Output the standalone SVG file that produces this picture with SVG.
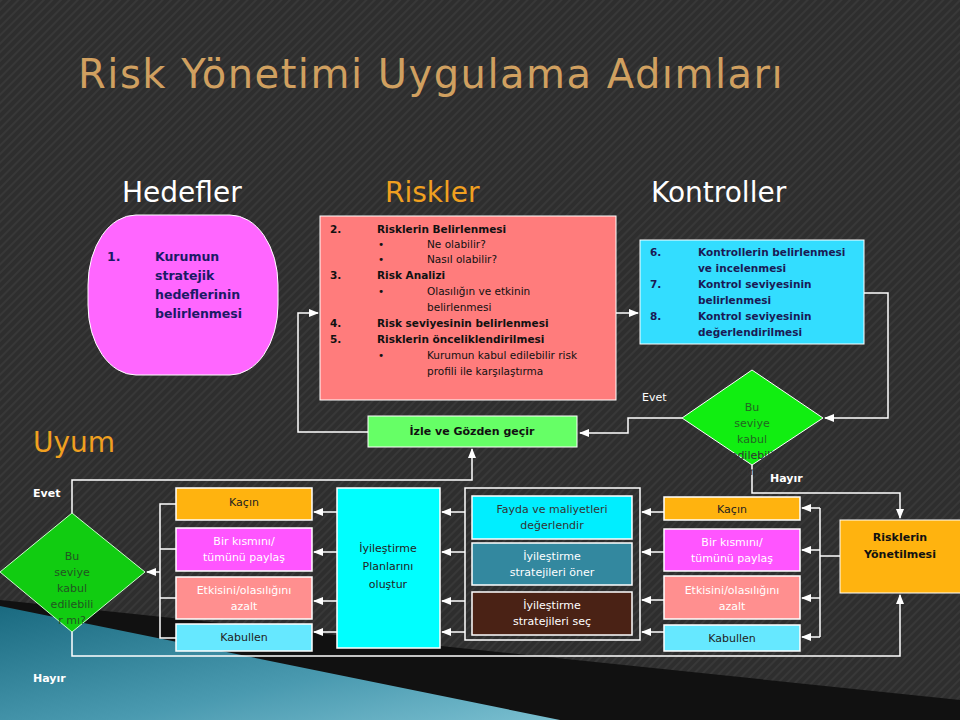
<svg xmlns="http://www.w3.org/2000/svg" width="960" height="720" viewBox="0 0 960 720">
<defs>
<pattern id="st" width="6" height="6" patternUnits="userSpaceOnUse" patternTransform="rotate(45)"><rect width="6" height="6" fill="#2e2e2e"/><rect width="2" height="6" fill="#383838"/></pattern>
<linearGradient id="tg" x1="0" y1="0" x2="1" y2="1"><stop offset="0" stop-color="#1a6a80"/><stop offset="0.6" stop-color="#4a9ab0"/><stop offset="1" stop-color="#7abfd0"/></linearGradient>
<marker id="a" markerWidth="10" markerHeight="8" refX="9" refY="4" orient="auto" markerUnits="userSpaceOnUse"><path d="M0,0 L10,4 L0,8 z" fill="#fff"/></marker>
</defs>
<style>
text{font-family:"DejaVu Sans","Liberation Sans",sans-serif}
.c{fill:none;stroke:#fff;stroke-width:1.5}
.ar{marker-end:url(#a)}
.b{stroke:#fff;stroke-width:1.5}
.s{font-size:11px;text-anchor:middle}
.h{font-size:28px;fill:#fff}
.lab{font-size:11px;font-weight:bold;fill:#fff}
</style>
<rect width="960" height="720" fill="url(#st)"/>
<polygon points="0,600 960,700 960,720 0,720" fill="#111"/>
<polygon points="0,606 560,720 0,720" fill="url(#tg)"/>
<text x="78" y="88" font-size="40" fill="#d0a060" letter-spacing="1.5">Risk Yönetimi Uygulama Adımları</text>
<text x="122" y="202" class="h">Hedefler</text>
<text x="385" y="202" class="h" style="fill:#f0a020">Riskler</text>
<text x="651" y="202" class="h">Kontroller</text>
<text x="33" y="452" font-size="28" fill="#f0a020">Uyum</text>

<g id="connectors">
<path class="c ar" d="M616,313 H638"/>
<path class="c ar" d="M864,293 H888 V418 H825"/>
<path class="c ar" d="M682,418 H628 V433 H580"/>
<path class="c ar" d="M368,432 H298 V313 H318"/>
<path class="c ar" d="M72,513 V480 H472 V449"/>
<path class="c ar" d="M72,632 V656 H900 V595"/>
<path class="c ar" d="M752,465 V493 H900 V518"/>
<path class="c" d="M840,556 H820 M820,508 V637"/>
<path class="c ar" d="M820,508 H802"/><path class="c ar" d="M820,550 H802"/><path class="c ar" d="M820,598 H802"/><path class="c ar" d="M820,637 H802"/>
<path class="c ar" d="M664,512 H642"/><path class="c ar" d="M664,552 H642"/><path class="c ar" d="M664,600 H642"/><path class="c ar" d="M664,632 H642"/>
<path class="c ar" d="M465,512 H442"/><path class="c ar" d="M465,552 H442"/><path class="c ar" d="M465,601 H442"/><path class="c ar" d="M465,632 H442"/>
<path class="c ar" d="M337,512 H314"/><path class="c ar" d="M337,552 H314"/><path class="c ar" d="M337,601 H314"/><path class="c ar" d="M337,632 H314"/>
<path class="c" d="M176,504 H160 V638 H176 M160,549 H176 M160,598 H176"/>
<path class="c ar" d="M160,572 H147"/>
</g>
<text x="642" y="401" font-size="11" fill="#fff">Evet</text>
<text x="770" y="482" class="lab">Hayır</text>
<text x="33" y="497" class="lab">Evet</text>
<text x="33" y="682" class="lab">Hayır</text>

<g id="n1"><rect x="88" y="215" width="190" height="160" rx="48" ry="70" fill="#ff66ff" stroke="#fff"/>
<g font-size="12.5" font-weight="bold" fill="#1a1a66"><text x="107" y="261">1.</text><text x="155" y="261">Kurumun</text><text x="155" y="280">stratejik</text><text x="155" y="299">hedeflerinin</text><text x="155" y="318">belirlenmesi</text></g></g>

<g id="n2"><rect x="320" y="216" width="296" height="184" fill="#ff7c7c" stroke="#fff"/>
<g font-size="10.5" fill="#111"><g font-weight="bold"><text x="330" y="233">2.</text><text x="377" y="233">Risklerin Belirlenmesi</text></g>
<text x="378" y="248">•</text><text x="427" y="248">Ne olabilir?</text>
<text x="378" y="263">•</text><text x="427" y="263">Nasıl olabilir?</text>
<g font-weight="bold"><text x="330" y="279">3.</text><text x="377" y="279">Risk Analizi</text></g>
<text x="378" y="295">•</text><text x="427" y="295">Olasılığın ve etkinin</text><text x="427" y="311">belirlenmesi</text>
<g font-weight="bold"><text x="330" y="327">4.</text><text x="377" y="327">Risk seviyesinin belirlenmesi</text><text x="330" y="343">5.</text><text x="377" y="343">Risklerin önceliklendirilmesi</text></g>
<text x="378" y="359">•</text><text x="427" y="359">Kurumun kabul edilebilir risk</text><text x="427" y="375">profili ile karşılaştırma</text></g></g>

<g id="n3"><rect x="640" y="240" width="224" height="104" fill="#33ddff" stroke="#fff"/>
<g font-size="10.5" font-weight="bold" fill="#1a1a55"><text x="650" y="256">6.</text><text x="698" y="256">Kontrollerin belirlenmesi</text><text x="698" y="272">ve incelenmesi</text>
<text x="650" y="288">7.</text><text x="698" y="288">Kontrol seviyesinin</text><text x="698" y="304">belirlenmesi</text>
<text x="650" y="320">8.</text><text x="698" y="320">Kontrol seviyesinin</text><text x="698" y="336">değerlendirilmesi</text></g></g>

<g id="d1"><polygon points="752,370 823,418 752,465 682,418" fill="#11ee11" stroke="#fff"/>
<g class="s" fill="#226622"><text x="752" y="411">Bu</text><text x="752" y="427">seviye</text><text x="752" y="443">kabul</text><text x="752" y="459" fill="#333">edilebili</text><text x="752" y="475" fill="#333">r mı?</text></g></g>

<g id="izle"><rect x="368" y="416" width="209" height="31" fill="#66ff66" stroke="#fff"/><text x="472" y="435" class="s" font-weight="bold" fill="#111">İzle ve Gözden geçir</text></g>

<g id="d2"><polygon points="72,513 145,572 72,632 0,572" fill="#11cc11" stroke="#ccffcc"/>
<g class="s" fill="#225522"><text x="72" y="560">Bu</text><text x="72" y="576">seviye</text><text x="72" y="592">kabul</text><text x="72" y="608">edilebili</text><text x="72" y="624">r mı?</text></g></g>

<g id="ry"><rect x="840" y="520" width="122" height="73" fill="#ffb30f" stroke="#fff"/><g class="s" font-weight="bold" font-size="12" fill="#111"><text x="900" y="541">Risklerin</text><text x="900" y="558">Yönetilmesi</text></g></g>

<g id="r-kacin"><rect x="664" y="497" width="136" height="23" fill="#ffb30f" class="b"/><text x="732" y="513" class="s" fill="#222">Kaçın</text></g>
<g id="r-bir"><rect x="664" y="529" width="136" height="42" fill="#ff55ff" class="b"/><g class="s" fill="#fff"><text x="732" y="546">Bir kısmını/</text><text x="732" y="562">tümünü paylaş</text></g></g>
<g id="r-etk"><rect x="664" y="576" width="136" height="43" fill="#ff8f8f" class="b"/><g class="s" fill="#fff"><text x="732" y="594">Etkisini/olasılığını</text><text x="732" y="610">azalt</text></g></g>
<g id="r-kab"><rect x="664" y="625" width="136" height="26" fill="#66e8ff" class="b"/><text x="732" y="642" class="s" fill="#222">Kabullen</text></g>

<g id="mid"><rect x="465" y="488" width="175" height="152" fill="none" class="b"/>
<rect x="472" y="496" width="160" height="43" fill="#00eeff" class="b"/><g class="s" fill="#333"><text x="552" y="513">Fayda ve maliyetleri</text><text x="552" y="529">değerlendir</text></g>
<rect x="472" y="543" width="160" height="42" fill="#33889f" class="b"/><g class="s" fill="#fff"><text x="552" y="560">İyileştirme</text><text x="552" y="576">stratejileri öner</text></g>
<rect x="472" y="592" width="160" height="43" fill="#4a2215" class="b"/><g class="s" fill="#fff"><text x="552" y="609">İyileştirme</text><text x="552" y="625">stratejileri seç</text></g></g>

<g id="plan"><rect x="337" y="488" width="103" height="160" fill="#00ffff" class="b"/><g class="s" font-size="13" fill="#222"><text x="388" y="552">İyileştirme</text><text x="388" y="570">Planlarını</text><text x="388" y="588">oluştur</text></g></g>

<g id="l-kacin"><rect x="176" y="488" width="136" height="32" fill="#ffb30f" class="b"/><text x="244" y="506" class="s" fill="#222">Kaçın</text></g>
<g id="l-bir"><rect x="176" y="528" width="136" height="43" fill="#ff55ff" class="b"/><g class="s" fill="#fff"><text x="244" y="545">Bir kısmını/</text><text x="244" y="561">tümünü paylaş</text></g></g>
<g id="l-etk"><rect x="176" y="577" width="136" height="42" fill="#ff8f8f" class="b"/><g class="s" fill="#fff"><text x="244" y="594">Etkisini/olasılığını</text><text x="244" y="610">azalt</text></g></g>
<g id="l-kab"><rect x="176" y="624" width="136" height="27" fill="#66e8ff" class="b"/><text x="244" y="641" class="s" fill="#222">Kabullen</text></g>
</svg>
